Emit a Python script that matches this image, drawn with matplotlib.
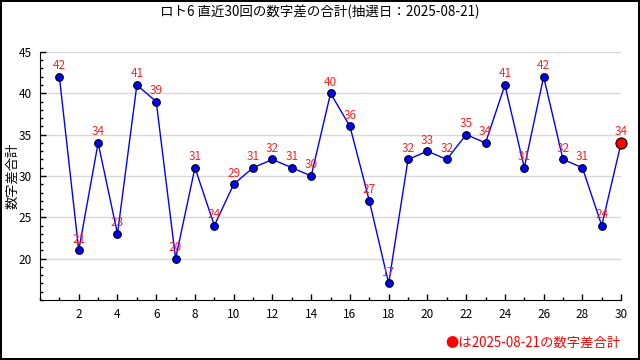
import matplotlib
matplotlib.use("Agg")
import matplotlib.pyplot as plt
from matplotlib.ticker import MultipleLocator

plt.rcParams['font.family'] = ['Noto Sans CJK JP', 'DejaVu Sans']

draw_date = "2025-08-21"
rounds = list(range(1, 31))
diff_sums = [42, 21, 34, 23, 41, 39, 20, 31, 24, 29,
             31, 32, 31, 30, 40, 36, 27, 17, 32, 33,
             32, 35, 34, 41, 31, 42, 32, 31, 24, 34]
x_ticks = list(range(2, 31, 2))
y_ticks = [20, 25, 30, 35, 40, 45]

fig = plt.figure(figsize=(6.4, 3.6), dpi=100)
fig.patch.set_facecolor('white')
fig.patch.set_edgecolor('black')
fig.patch.set_linewidth(1.5)
ax = fig.add_axes([0.0625, 0.1667, 0.908, 0.689])

ax.plot(rounds, diff_sums, color='#0000ff', lw=1, zorder=3)
ax.plot(rounds[:-1], diff_sums[:-1], 'o', ms=5.5, mfc='#0000ff',
        mec='black', mew=0.8, zorder=4)
ax.plot(rounds[-1:], diff_sums[-1:], 'o', ms=8, mfc='#ff0000',
        mec='black', mew=0.8, zorder=5, clip_on=False)

for x, y in zip(rounds, diff_sums):
    ax.annotate(str(y), (x, y), xytext=(0, 8), textcoords='offset points',
                ha='center', va='center', color='#ff2020', fontsize=8.5,
                zorder=6, annotation_clip=False)

ax.set_xlim(0, 30)
ax.set_ylim(15, 45)
ax.set_xticks(x_ticks)
ax.xaxis.set_minor_locator(MultipleLocator(1))
ax.set_yticks(y_ticks)
ax.yaxis.set_minor_locator(MultipleLocator(1))
ax.tick_params(which='major', direction='in', length=4, width=1,
               labelsize=8.5, pad=6)
ax.tick_params(which='minor', direction='in', length=2.5, width=1)
ax.grid(axis='y', color='#d8d8d8', lw=1)
ax.set_axisbelow(True)
for s in ['top', 'right']:
    ax.spines[s].set_visible(False)

ax.set_ylabel('数字差合計', fontsize=9.5)
ax.yaxis.set_label_coords(-0.036, 0.5)
fig.text(0.5, 0.967, f'ロト6 直近30回の数字差の合計(抽選日：{draw_date})',
         ha='center', va='center', fontsize=9.7)
fig.text(0.97, 0.047, f'●は{draw_date}の数字差合計', ha='right',
         va='center', color='#ff0000', fontsize=9.6)

fig.savefig('out.png', dpi=100)
